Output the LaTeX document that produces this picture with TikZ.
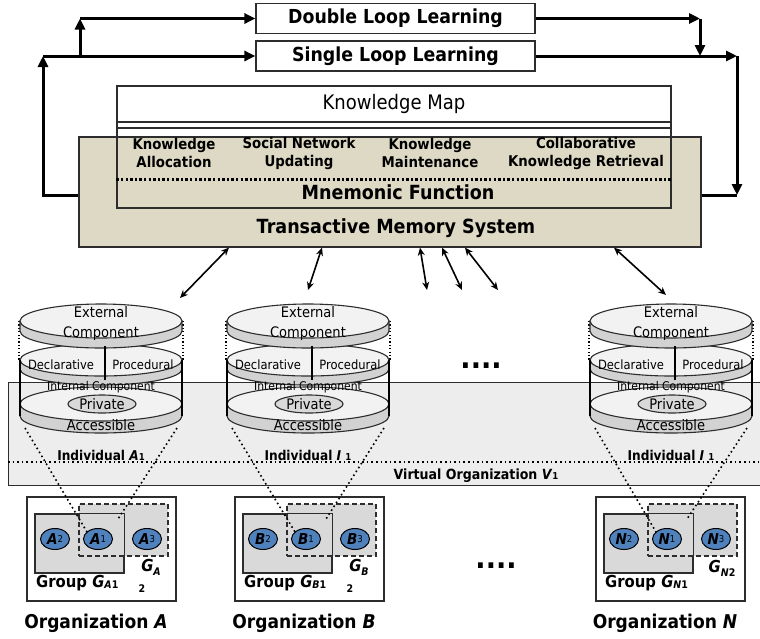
\documentclass[tikz,border=0pt]{standalone}
\usepackage{fontspec}
\setmainfont{DejaVu Sans}[FakeStretch=0.9]
\usetikzlibrary{arrows.meta,shapes.geometric}

\definecolor{tan}{RGB}{221,217,196}
\definecolor{vo}{RGB}{237,237,237}
\definecolor{face}{RGB}{242,242,242}
\definecolor{band}{RGB}{210,210,210}
\definecolor{grp}{RGB}{217,217,217}
\definecolor{ind}{RGB}{79,129,189}
\definecolor{edge}{RGB}{45,45,45}

\tikzset{
  box/.style={draw=edge, line width=1.2pt},
  lab/.style={inner sep=0pt, font=\fontsize{#1}{#1}\selectfont\bfseries},
  txt/.style={inner sep=0pt, font=\fontsize{#1}{#1}\selectfont},
  loopbox/.style={box, fill=white, minimum width=279pt, minimum height=30pt, inner sep=0pt, font=\fontsize{19.3}{19.3}\selectfont\bfseries},
  loopline/.style={line width=3pt},
  looparrow/.style={loopline, -{Triangle[length=11pt,width=10pt]}},
  func/.style={align=center, inner sep=0pt, font=\fontsize{14.8}{18}\selectfont\bfseries},
  tmsarrow/.style={line width=1.6pt, {Stealth[length=8pt,width=7pt]}-{Stealth[length=8pt,width=7pt]}},
  diskside/.style={draw=edge, line width=1.1pt, fill=band},
  disktop/.style={draw=edge, line width=1.1pt, fill=face},
  dotline/.style={line width=1.6pt, dash pattern=on 1.6pt off 3pt},
  indiv/.style={ellipse, draw=black, line width=1pt, fill=ind, minimum width=29pt, minimum height=21pt, inner sep=0pt, font=\fontsize{15}{15}\selectfont\bfseries},
  grpbox/.style={box, fill=grp, minimum width=89pt, inner sep=0pt},
}

% one disk of the memory stack: centre x, top y, thickness, y radius
\newcommand{\disk}[4]{%
  \filldraw[diskside] (#1-81,#2) -- (#1-81,#2+#3)
    arc[start angle=180,end angle=0,x radius=81,y radius=#4] -- (#1+81,#2) -- cycle;
  \filldraw[disktop] (#1,#2) ellipse[x radius=81,y radius=#4];
}
\newcommand{\sub}[1]{{\fontsize{9.5}{9.5}\selectfont #1}}

\begin{document}
\begin{tikzpicture}[x=1pt,y=-1pt]
\useasboundingbox (0,0) rectangle (760,638);

% learning loops
\node[loopbox] (dl) at (395.5,18.5) {Double Loop Learning};
\node[loopbox] (sl) at (395.5,56) {Single Loop Learning};

% transactive memory system with knowledge map
\node[box, fill=tan, minimum width=622pt, minimum height=110pt] (tms) at (390,192) {};
\fill[white] (117,86) rectangle (671,135);
\node[box, minimum width=554pt, minimum height=122pt] (km) at (394,147) {};
\draw[box] (km.west |- 0,122) -- (km.east |- 0,122);
\draw[box] (km.west |- 0,128) -- (km.east |- 0,128);
\node[txt=20] (kmt) at (394,104) {Knowledge Map};

\node[func] (f1) at (174,153) {Knowledge\\Allocation};
\node[func] (f2) at (299,153) {Social Network\\Updating};
\node[func] (f3) at (430,153) {Knowledge\\Maintenance};
\node[func] (f4) at (586,153) {Collaborative\\Knowledge Retrieval};
\draw[line width=3pt, dash pattern=on 2.4pt off 2.2pt] (km.west |- 0,179) -- (km.east |- 0,179);
\node[lab=19.5] (mf) at (398,192) {Mnemonic Function};
\node[lab=19.5] (tmst) at (396,228) {Transactive Memory System};

% feedback paths
\coordinate (lb) at (43,195);
\coordinate (lt) at (43,56);
\coordinate (bb) at (80,56);
\coordinate (bt) at (80,18.5);
\coordinate (rt) at (700,18.5);
\coordinate (rb) at (700,56);
\coordinate (ft) at (737,56);
\coordinate (fb) at (737,195);
\draw[looparrow] (tms.west |- lb) -- (lb) -- (lt);
\draw[looparrow] (lt) -- (sl.west);
\draw[looparrow] (bb) -- (bt);
\draw[looparrow] (bt) -- (dl.west);
\draw[looparrow] (dl.east) -- (rt);
\draw[looparrow] (rt) -- (rb);
\draw[looparrow] (sl.east) -- (ft);
\draw[looparrow] (ft) -- (fb);
\draw[loopline] (tms.east |- fb) -- (fb);

% virtual organization band
\draw[fill=vo, draw=edge, line width=1pt] (8,382) rectangle (770,485);
\draw[dotline] (8,462) -- (760,462);
\node[lab=14] (vo) at (476,476) {Virtual Organization \textit{V}\sub{1}};

% individual memory stacks
\foreach \cx/\nm/\who in {101/A/{\textit{A}\sub{1}}, 308/B/{\textit{I} \sub{1}}, 671/N/{\textit{I} \sub{1}}}{
  \draw[line width=1.2pt, dash pattern=on 1.2pt off 2.2pt] (\cx-82,321) -- (\cx-82,360);
  \draw[line width=1.2pt, dash pattern=on 1.2pt off 2.2pt] (\cx+82,321) -- (\cx+82,360);
  \disk{\cx}{404}{12}{17}
  \disk{\cx}{360}{9}{16}
  \disk{\cx}{321}{10}{17}
  \draw[line width=1.8pt] (\cx-81,360) -- (\cx-81,416);
  \draw[line width=1.8pt] (\cx+81,360) -- (\cx+81,416);
  \draw[line width=1.2pt] (\cx+4,346) -- (\cx+4,380);
  \node[txt=14.5, align=center, font=\fontsize{14.5}{20}\selectfont] (ext\nm) at (\cx,323) {External\\Component};
  \node[txt=12.8] (dec\nm) at (\cx-40,365) {Declarative};
  \node[txt=12.8] (pro\nm) at (\cx+42,365) {Procedural};
  \node[txt=12] (int\nm) at (\cx,387) {Internal Component};
  \node[ellipse, draw=edge, line width=1.1pt, fill=grp, minimum width=68pt, minimum height=18pt, inner sep=0pt, font=\fontsize{14.5}{14.5}\selectfont] (pri\nm) at (\cx+1,404) {Private};
  \node[txt=14.5] (acc\nm) at (\cx,425) {Accessible};
  \node[lab=13.5] (who\nm) at (\cx,455) {Individual \who};
  \coordinate (top\nm) at (\cx,303);
  \coordinate (cl\nm) at (\cx-76,428);
  \coordinate (cr\nm) at (\cx+76,428);
}
\node[lab=30] (dots1) at (481,366) {....};

% links between the memory system and the individuals
\coordinate (e2) at (427,290);
\coordinate (e3) at (462,290);
\coordinate (e4) at (498,290);
\draw[tmsarrow] ([xshift=-161pt]tms.south) -- ([xshift=79pt,yshift=5pt]topA);
\draw[tmsarrow] ([xshift=-68pt]tms.south) -- ([yshift=13pt]topB);
\draw[tmsarrow] ([xshift=30pt]tms.south) -- (e2);
\draw[tmsarrow] ([xshift=52pt]tms.south) -- (e3);
\draw[tmsarrow] ([xshift=75pt]tms.south) -- (e4);
\draw[tmsarrow] ([xshift=224pt]tms.south) -- ([xshift=-5pt,yshift=8pt]topN);

% organizations and their groups
\foreach \dx/\nm in {0/A,208/B,569/N}{
  \node[box, fill=white, minimum width=149pt, minimum height=104pt] (org\nm) at (101.5+\dx,549) {};
  \node[grpbox, minimum height=59pt] (g\nm1) at (79.5+\dx,543.5) {};
  \node[grpbox, dash pattern=on 5pt off 3pt, minimum height=52pt] (g\nm2) at (123.5+\dx,530) {};
  \draw[box] (g\nm1.south west) rectangle (g\nm1.north east);
  \node[indiv] (\nm-2) at (55+\dx,539) {\textit{\nm}\raisebox{2pt}{\sub{\mdseries 2}}};
  \node[indiv] (\nm-1) at (98+\dx,539) {\textit{\nm}\raisebox{2pt}{\sub{\mdseries 1}}};
  \node[indiv] (\nm-3) at (147+\dx,539) {\textit{\nm}\raisebox{2pt}{\sub{\mdseries 3}}};
  \node[lab=16.5, anchor=west] (gl\nm) at (36+\dx,583) {Group \textit{G}\raisebox{-1pt}{\fontsize{10.5}{10.5}\selectfont\textit{\nm}1}};
  \node[lab=19] (on\nm) at (96+\dx,623) {Organization \textit{\nm}};
}
\node[lab=16.5] (gA2) at (151,567) {\textit{G}\raisebox{-4pt}{\fontsize{10.5}{10.5}\selectfont\textit{A}}};
\node[lab=10.5] (gA2n) at (142,589) {2};
\node[lab=16.5] (gB2) at (359,567) {\textit{G}\raisebox{-4pt}{\fontsize{10.5}{10.5}\selectfont\textit{B}}};
\node[lab=10.5] (gB2n) at (350,589) {2};
\node[lab=16.5] (gN2) at (722,568) {\textit{G}\raisebox{-4pt}{\fontsize{10.5}{10.5}\selectfont\textit{N}2}};
\node[lab=30] (dots2) at (496,566) {....};

% zoom from each stack down to its individual
\foreach \nm in {A,B,N}{
  \draw[dotline] (cl\nm) -- ([shift={(-11,-7)}]\nm-1.center);
  \draw[dotline] (cr\nm) -- ([shift={(20,-20)}]\nm-1.center);
}
\end{tikzpicture}
\end{document}
